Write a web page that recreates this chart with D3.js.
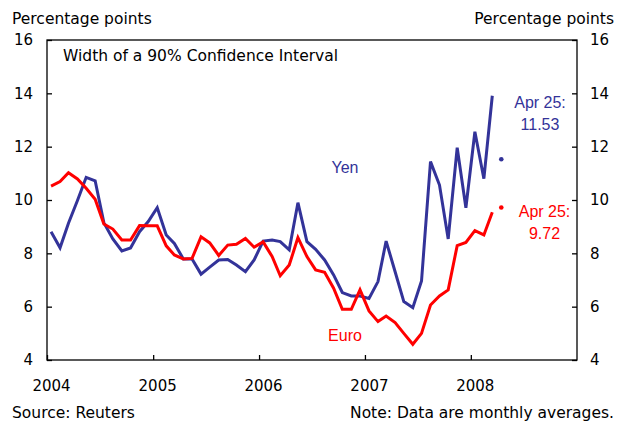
<!DOCTYPE html>
<html>
<head>
<meta charset="utf-8">
<script src="https://cdn.jsdelivr.net/npm/d3@7"></script>
<style>
  html, body { margin: 0; padding: 0; background: #fff; }
  svg { display: block; }
  .ax text { font-family: "DejaVu Sans", sans-serif; font-size: 15px; fill: #000; }
  .ax path, .ax line { stroke: #000; stroke-width: 1.3px; }
</style>
</head>
<body>
<div id="chart"></div>
<script>
// ---- data ----
const startMonth = [2004, 0]; // Jan 2004, monthly averages
const yenValues = [8.81, 8.21, 9.13, 9.98, 10.85, 10.72, 9.15, 8.54, 8.09, 8.2, 8.81, 9.19,
                   9.71, 8.69, 8.37, 7.79, 7.79, 7.22, 7.48, 7.75, 7.77, 7.56, 7.31, 7.75,
                   8.46, 8.5, 8.44, 8.13, 9.9, 8.44, 8.15, 7.75, 7.19, 6.53, 6.4, 6.4,
                   6.31, 6.94, 8.46, 7.31, 6.19, 5.96, 6.96, 11.44, 10.56, 8.54, 11.96, 9.71,
                   12.56, 10.8, 13.91];
const euroValues = [10.52, 10.69, 11.02, 10.79, 10.44, 10.03, 9.1, 8.91, 8.5, 8.5, 9.04, 9.03,
                    9.03, 8.28, 7.94, 7.79, 7.81, 8.62, 8.39, 7.92, 8.31, 8.34, 8.56, 8.23,
                    8.43, 7.88, 7.16, 7.56, 8.59, 7.88, 7.38, 7.29, 6.69, 5.9, 5.9, 6.63,
                    5.84, 5.44, 5.65, 5.4, 5.0, 4.59, 5.0, 6.06, 6.4, 6.63, 8.29, 8.41,
                    8.85, 8.69, 9.54];
const latestLabel = "Apr 25:";
const latestMonthIndex = 51; // April 2008
const yenLatest = 11.53;
const euroLatest = 9.72;
const yTicks = [4, 6, 8, 10, 12, 14, 16];
const xTickYears = [2004, 2005, 2006, 2007, 2008];
const titleText = "Width of a 90% Confidence Interval";
const unitText = "Percentage points";
const sourceText = "Source: Reuters";
const noteText = "Note: Data are monthly averages.";

const monthDate = i => new Date(startMonth[0], startMonth[1] + i, 15);

// ---- layout ----
const W = 623, H = 426;
const m = { left: 47, right: 577, top: 40, bottom: 360 };
const BLUE = "#333399", RED = "#ff0000";

const svg = d3.select("#chart").append("svg").attr("width", W).attr("height", H);

const x = d3.scaleTime().domain([new Date(2004, 0, 1), new Date(2009, 0, 1)]).range([m.left, m.right]);
const y = d3.scaleLinear().domain([4, 16]).range([m.bottom, m.top]);

// frame
svg.append("rect").attr("x", m.left).attr("y", m.top)
  .attr("width", m.right - m.left).attr("height", m.bottom - m.top)
  .attr("fill", "none").attr("stroke", "#000").attr("stroke-width", 1.3);

// axes
svg.append("g").attr("class", "ax").attr("transform", `translate(${m.left},0)`)
  .call(d3.axisLeft(y).tickValues(yTicks).tickSize(-5).tickPadding(14).tickFormat(d3.format("d")));
svg.append("g").attr("class", "ax").attr("transform", `translate(${m.right},0)`)
  .call(d3.axisRight(y).tickValues(yTicks).tickSize(-5).tickPadding(13).tickFormat(d3.format("d")));
const xb = svg.append("g").attr("class", "ax").attr("transform", `translate(0,${m.bottom})`)
  .call(d3.axisBottom(x).tickValues(xTickYears.map(yr => new Date(yr, 0, 1))).tickSize(-5).tickPadding(20)
    .tickFormat(d3.timeFormat("%Y")));
xb.selectAll("text").attr("dx", 4);
svg.selectAll(".ax .domain").remove();

// lines
const line = d3.line().x((d, i) => x(monthDate(i))).y(d => y(d));
svg.append("path").datum(yenValues).attr("d", line).attr("fill", "none")
  .attr("stroke", BLUE).attr("stroke-width", 3).attr("stroke-linejoin", "miter");
svg.append("path").datum(euroValues).attr("d", line).attr("fill", "none")
  .attr("stroke", RED).attr("stroke-width", 3).attr("stroke-linejoin", "miter");

// latest dots
svg.append("circle").attr("cx", x(monthDate(latestMonthIndex))).attr("cy", y(yenLatest)).attr("r", 2.3).attr("fill", BLUE);
svg.append("circle").attr("cx", x(monthDate(latestMonthIndex))).attr("cy", y(euroLatest)).attr("r", 2.3).attr("fill", RED);

// texts
const txt = (s, tx, ty, opts = {}) => svg.append("text").text(s).attr("x", tx).attr("y", ty)
  .attr("font-family", opts.family || "DejaVu Sans, sans-serif")
  .attr("font-size", opts.size || 15.5)
  .attr("text-anchor", opts.anchor || "start")
  .attr("fill", opts.fill || "#000");

txt(unitText, 12, 24);
txt(unitText, 614, 24, { anchor: "end" });
txt(titleText, 63, 61);
txt(sourceText, 12, 418);
txt(noteText, 614, 418, { anchor: "end" });

const lab = { family: "Liberation Sans, Arial, sans-serif", size: 16, anchor: "middle" };
txt("Yen", 345, 173, { ...lab, fill: BLUE });
txt("Euro", 345, 341, { ...lab, fill: RED });
txt(latestLabel, 540, 108, { ...lab, fill: BLUE });
txt(d3.format(".2f")(yenLatest), 540, 129.5, { ...lab, fill: BLUE });
txt(latestLabel, 544.5, 216.5, { ...lab, fill: RED });
txt(d3.format(".2f")(euroLatest), 544.5, 238.5, { ...lab, fill: RED });
</script>
</body>
</html>
